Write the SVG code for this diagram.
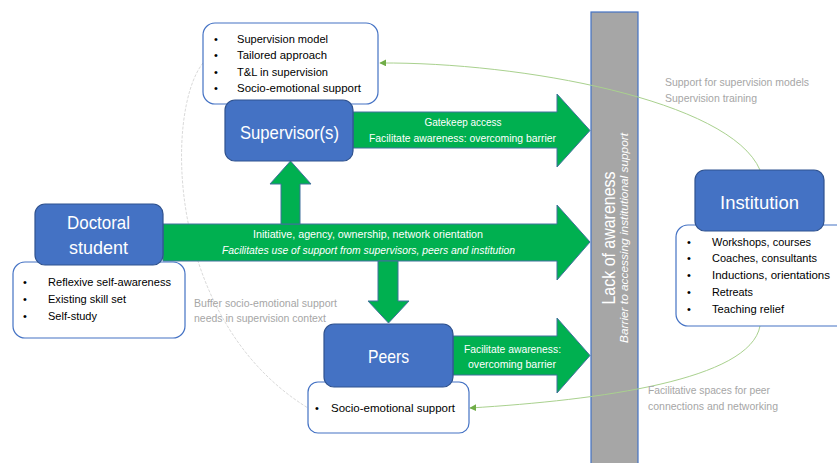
<svg xmlns="http://www.w3.org/2000/svg" width="837" height="463" viewBox="0 0 837 463">
<style>
text{font-family:"Liberation Sans",Arial,sans-serif}
.blue{fill:#4472c4;stroke:#2f528f;stroke-width:1.2}
.list{fill:#fff;stroke:#4472c4;stroke-width:1.2}
.arrow{fill:#00b050;stroke:#41719c;stroke-width:1}
.title{fill:#fff;font-size:19px;text-anchor:middle}
.item{fill:#000;font-size:11.5px}
.bul{fill:#000;font-size:11px}
.atext{fill:#fff;font-size:11px;text-anchor:middle}
.note{fill:#a6a6a6;font-size:11px}
.gcurve{fill:none;stroke:#a9d18e;stroke-width:1;marker-end:url(#gh)}
</style>
<defs>
<marker id="gh" viewBox="0 0 10 10" refX="9" refY="5" markerWidth="7" markerHeight="7" orient="auto" markerUnits="userSpaceOnUse">
<path d="M0,0 L10,5 L0,10 z" fill="#70ad47"/>
</marker>
</defs>
<rect width="837" height="463" fill="#fff"/>

<g id="barrier">
<rect x="591" y="12" width="47" height="460" fill="#a6a6a6" stroke="#4472c4" stroke-width="1.2"/>
<text transform="translate(615,238) rotate(-90)" fill="#fff" font-size="19" text-anchor="middle" textLength="133" lengthAdjust="spacingAndGlyphs">Lack of awareness</text>
<text transform="translate(628,238) rotate(-90)" fill="#fff" font-size="11" font-style="italic" text-anchor="middle" textLength="210" lengthAdjust="spacingAndGlyphs">Barrier to accessing institutional support</text>
</g>

<g id="connectors">
<path d="M203,63 C165,110 165,320 308,408" fill="none" stroke="#cfcfcf" stroke-width="0.8" stroke-dasharray="3 1.5"/>
<path class="gcurve" d="M760,170 C730,100 520,62 380,63"/>
<path class="gcurve" d="M760,326 C750,380 600,400 470,408"/>
<polygon class="arrow" points="163,224 557,224 557,205 590,242 557,280 557,261 163,261"/>
<polygon class="arrow" points="353,112 557,112 557,94 590,130.5 557,167 557,148 353,148"/>
<polygon class="arrow" points="453,336 557,336 557,318 590,355.5 557,393 557,375 453,375"/>
<polygon class="arrow" points="281,224 281,184 270,184 290.5,161 311,184 300,184 300,224"/>
<polygon class="arrow" points="378,261 378,301 368,301 388.5,323 409,301 398,301 398,261"/>
<text class="atext" x="463" y="126" textLength="77" lengthAdjust="spacingAndGlyphs">Gatekeep access</text>
<text class="atext" x="462.5" y="142" textLength="187" lengthAdjust="spacingAndGlyphs">Facilitate awareness: overcoming barrier</text>
<text class="atext" x="368" y="238" textLength="230" lengthAdjust="spacingAndGlyphs">Initiative, agency, ownership, network orientation</text>
<text class="atext" x="368.5" y="254" font-style="italic" textLength="293" lengthAdjust="spacingAndGlyphs">Facilitates use of support from supervisors, peers and institution</text>
<text class="atext" x="512.5" y="353" textLength="97" lengthAdjust="spacingAndGlyphs">Facilitate awareness:</text>
<text class="atext" x="512" y="368" textLength="88" lengthAdjust="spacingAndGlyphs">overcoming barrier</text>
<text class="note" x="665" y="86" textLength="144" lengthAdjust="spacingAndGlyphs">Support for supervision models</text>
<text class="note" x="665" y="102" textLength="92" lengthAdjust="spacingAndGlyphs">Supervision training</text>
<text class="note" x="648" y="394" textLength="122" lengthAdjust="spacingAndGlyphs">Facilitative spaces for peer</text>
<text class="note" x="648" y="410" textLength="130" lengthAdjust="spacingAndGlyphs">connections and networking</text>
<text class="note" x="194" y="307" textLength="143" lengthAdjust="spacingAndGlyphs">Buffer socio-emotional support</text>
<text class="note" x="194" y="322" textLength="132" lengthAdjust="spacingAndGlyphs">needs in supervision context</text>
</g>

<g id="supervisor">
<rect class="list" x="203" y="23" width="175" height="81" rx="12"/>
<text class="bul" x="214" y="43">•</text>
<text class="bul" x="214" y="59">•</text>
<text class="bul" x="214" y="76">•</text>
<text class="bul" x="214" y="92">•</text>
<text class="item" x="237" y="43" textLength="91" lengthAdjust="spacingAndGlyphs">Supervision model</text>
<text class="item" x="237" y="59" textLength="90" lengthAdjust="spacingAndGlyphs">Tailored approach</text>
<text class="item" x="237" y="76" textLength="91" lengthAdjust="spacingAndGlyphs">T&amp;L in supervision</text>
<text class="item" x="237" y="92" textLength="124" lengthAdjust="spacingAndGlyphs">Socio-emotional support</text>
<rect class="blue" x="225" y="100" width="128" height="61" rx="10"/>
<text class="title" x="289.5" y="139" textLength="99" lengthAdjust="spacingAndGlyphs">Supervisor(s)</text>
</g>

<g id="doctoral-student">
<rect class="list" x="13" y="262" width="172" height="76" rx="12"/>
<text class="bul" x="23" y="286">•</text>
<text class="bul" x="23" y="303">•</text>
<text class="bul" x="23" y="320">•</text>
<text class="item" x="48" y="286" textLength="123" lengthAdjust="spacingAndGlyphs">Reflexive self-awareness</text>
<text class="item" x="48" y="303" textLength="78" lengthAdjust="spacingAndGlyphs">Existing skill set</text>
<text class="item" x="48" y="320" textLength="49" lengthAdjust="spacingAndGlyphs">Self-study</text>
<rect class="blue" x="35" y="204" width="128" height="61" rx="10"/>
<text class="title" x="98.5" y="229" textLength="63" lengthAdjust="spacingAndGlyphs">Doctoral</text>
<text class="title" x="98.5" y="254" textLength="59" lengthAdjust="spacingAndGlyphs">student</text>
</g>

<g id="peers">
<rect class="list" x="308" y="382" width="161" height="51" rx="10"/>
<text class="bul" x="315" y="412">•</text>
<text class="item" x="331" y="412" textLength="124" lengthAdjust="spacingAndGlyphs">Socio-emotional support</text>
<rect class="blue" x="324" y="324" width="129" height="63" rx="10"/>
<text class="title" x="388.5" y="363" textLength="41" lengthAdjust="spacingAndGlyphs">Peers</text>
</g>

<g id="institution">
<rect class="list" x="676" y="225" width="175" height="101" rx="12"/>
<text class="bul" x="687" y="246">•</text>
<text class="bul" x="687" y="262">•</text>
<text class="bul" x="687" y="279">•</text>
<text class="bul" x="687" y="296">•</text>
<text class="bul" x="687" y="313">•</text>
<text class="item" x="712" y="246" textLength="99" lengthAdjust="spacingAndGlyphs">Workshops, courses</text>
<text class="item" x="712" y="262" textLength="105" lengthAdjust="spacingAndGlyphs">Coaches, consultants</text>
<text class="item" x="712" y="279" textLength="118" lengthAdjust="spacingAndGlyphs">Inductions, orientations</text>
<text class="item" x="712" y="296" textLength="41" lengthAdjust="spacingAndGlyphs">Retreats</text>
<text class="item" x="712" y="313" textLength="72" lengthAdjust="spacingAndGlyphs">Teaching relief</text>
<rect class="blue" x="695" y="170" width="129" height="61" rx="10"/>
<text class="title" x="759.5" y="209" textLength="79" lengthAdjust="spacingAndGlyphs">Institution</text>
</g>
</svg>
